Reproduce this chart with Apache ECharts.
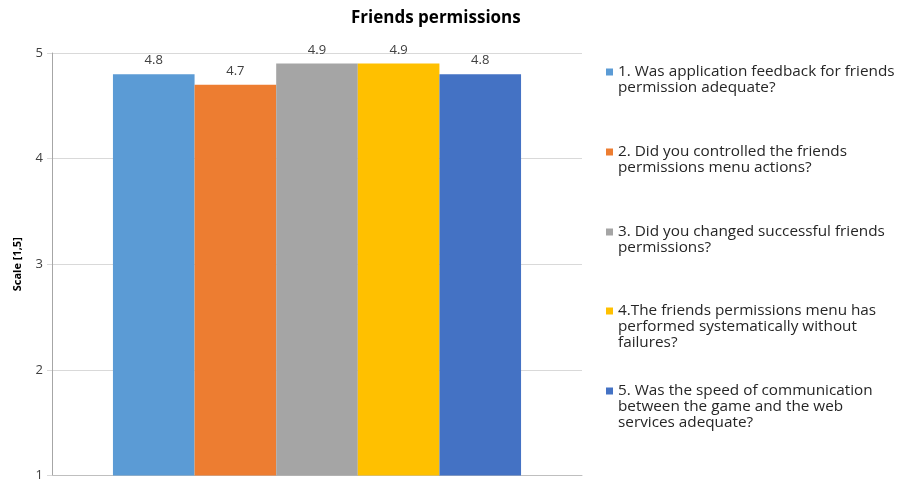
<!DOCTYPE html>
<html>
<head>
<meta charset="utf-8">
<script src="https://cdn.jsdelivr.net/npm/echarts@6/dist/echarts.min.js"></script>
<style>
  html, body { margin: 0; padding: 0; background: #fff; }
  #chart { width: 899px; height: 482px; }
</style>
</head>
<body>
<div id="chart"></div>
<script>
// chart data
const categories = ['']
const questionNames = [
  '1. Was application feedback for friends\npermission adequate?',
  '2. Did you controlled the friends\npermissions menu actions?',
  '3. Did you changed successful friends\npermissions?',
  '4.The friends permissions menu has\nperformed systematically without\nfailures?',
  '5. Was the speed of communication\nbetween the game and the web\nservices adequate?'
]
const questionScores = [4.8, 4.7, 4.9, 4.9, 4.8]
const barColors = ['#5B9BD5', '#ED7D31', '#A5A5A5', '#FFC000', '#4472C4']
const yTicks = [1, 2, 3, 4, 5]

const fontFamily = 'Open Sans'
const lineH = 16
// first-line centre of each legend entry
const legendLineY = [72, 152, 232, 311, 391]

const chartInstance = echarts.init(document.getElementById('chart'))

// one legend per entry so the icon can sit on the first text line:
// blank lines are put before the name so that line 1 is the middle line
const legends = questionNames.map((name, i) => {
  const lines = name.split('\n').length
  return {
    data: [name],
    left: 606,
    top: legendLineY[i] - (2 * lines - 1) * lineH / 2,
    padding: 0,
    orient: 'vertical',
    icon: 'rect',
    itemWidth: 7,
    itemHeight: 7,
    itemGap: 0,
    selectedMode: false,
    formatter: n => '\n'.repeat(lines - 1) + n,
    textStyle: {
      fontFamily: fontFamily,
      fontSize: 15.3,
      color: '#262626',
      lineHeight: lineH
    }
  }
})

const series = questionNames.map((name, i) => ({
  name: name,
  type: 'bar',
  data: [questionScores[i]],
  barGap: '0%',
  barCategoryGap: '23%',
  itemStyle: { color: barColors[i] },
  label: {
    show: true,
    position: 'top',
    distance: 7,
    color: '#404040',
    fontFamily: fontFamily,
    fontSize: 13,
    formatter: p => p.value.toFixed(1)
  }
}))

const option = {
  animation: false,
  textStyle: { fontFamily: fontFamily },
  title: {
    text: 'Friends permissions',
    left: 351,
    top: 10,
    padding: 0,
    textStyle: {
      fontFamily: fontFamily,
      fontSize: 17,
      fontWeight: 'bold',
      color: '#000'
    }
  },
  legend: legends,
  grid: {
    left: 52,
    right: 317,
    top: 53,
    bottom: 4
  },
  xAxis: {
    type: 'category',
    data: categories,
    axisLine: { lineStyle: { color: '#BFBFBF' } },
    axisTick: { show: false },
    axisLabel: { show: false }
  },
  yAxis: {
    type: 'value',
    min: yTicks[0],
    max: yTicks[yTicks.length - 1],
    interval: 1,
    name: 'Scale [1,5]',
    nameLocation: 'middle',
    nameGap: 29,
    nameTextStyle: {
      fontFamily: fontFamily,
      fontSize: 11,
      fontWeight: 'bold',
      color: '#000'
    },
    axisLine: { show: true, lineStyle: { color: '#A6A6A6' } },
    axisTick: { show: true, length: 5, lineStyle: { color: '#D9D9D9' } },
    axisLabel: {
      color: '#404040',
      fontSize: 13,
      margin: 9
    },
    splitLine: { lineStyle: { color: '#D9D9D9' } }
  },
  series: series
}

chartInstance.setOption(option)
</script>
</body>
</html>
